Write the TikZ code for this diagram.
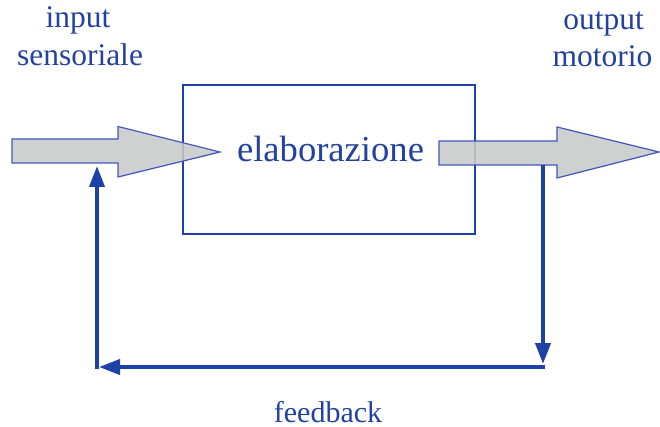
\documentclass[tikz,border=0pt]{standalone}
\usepackage{fontspec}
\setmainfont{Liberation Serif}
\usetikzlibrary{arrows.meta}
\definecolor{txtblue}{RGB}{35,65,160}
\definecolor{lineblue}{RGB}{30,65,168}
\definecolor{arrblue}{RGB}{65,85,190}
\definecolor{arrgray}{RGB}{200,201,201}
\tikzset{
  lbl/.style={text=txtblue, inner sep=0pt, anchor=base, font=\fontsize{31.5}{38}\selectfont},
  bigarrow/.style={draw=arrblue, line width=1.2pt, fill=arrgray, fill opacity=0.88, line join=miter},
  boxstyle/.style={draw=lineblue, line width=2.6pt},
  fb/.style={draw=lineblue, line width=4pt},
  fbarrow/.style={fb, -{Triangle[length=21pt,width=15pt]}}
}
\begin{document}
\begin{tikzpicture}[x=1pt,y=-1pt]
\useasboundingbox (0,0) rectangle (660,427);
% box
\draw[boxstyle] (183,85) rectangle (475,234);
\node[lbl, font=\fontsize{36.6}{44}\selectfont] (elab) at (330.5,162) {elaborazione};
% input arrow
\draw[bigarrow] (12,139) -- (118,139) -- (118,126.5) -- (220,152) -- (118,177) -- (118,163) -- (12,163) -- cycle;
% output arrow
\draw[bigarrow] (439,141) -- (557,141) -- (557,127) -- (659,152) -- (557,178) -- (557,165) -- (439,165) -- cycle;
% labels
\node[lbl] (in1) at (78,28) {input};
\node[lbl] (in2) at (80,66) {sensoriale};
\node[lbl] (out1) at (603.5,30) {output};
\node[lbl] (out2) at (602.5,67) {motorio};
\node[lbl, font=\fontsize{30}{36}\selectfont] (fbl) at (328,422) {feedback};
% feedback loop
\coordinate (a) at (543,165);
\coordinate (b) at (543,364);
\coordinate (c) at (545,367);
\coordinate (d) at (99,367);
\coordinate (e) at (97,369);
\coordinate (f) at (97,166);
\draw[fbarrow] (a) -- (b);
\draw[fbarrow] (c) -- (d);
\draw[fbarrow] (e) -- (f);
\end{tikzpicture}
\end{document}
